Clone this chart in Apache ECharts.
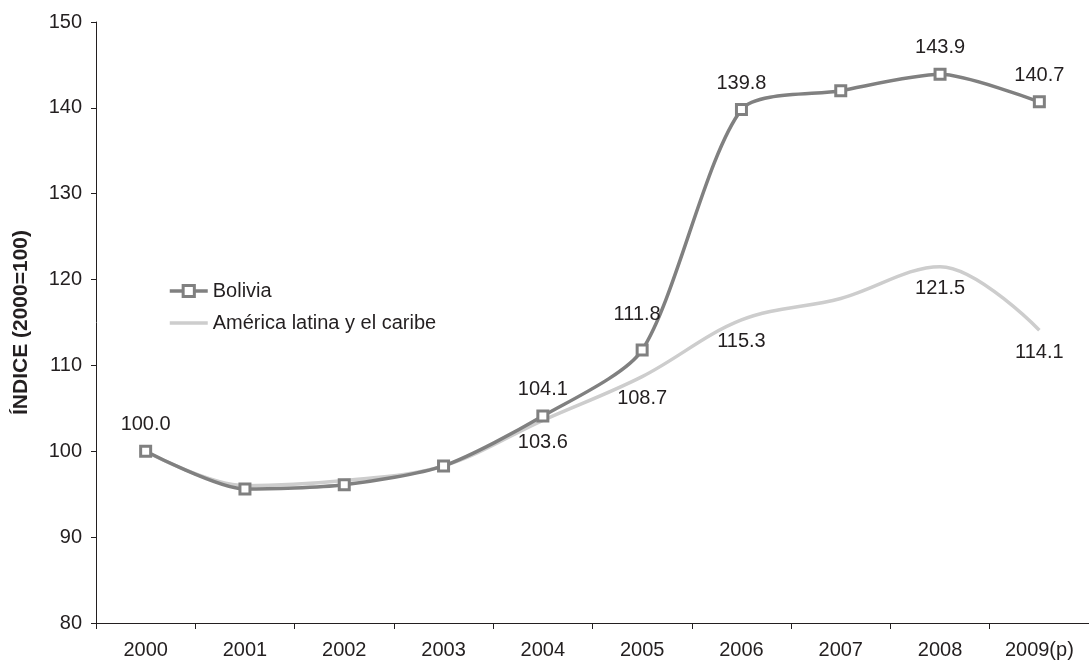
<!DOCTYPE html>
<html>
<head>
<meta charset="utf-8">
<script src="https://cdn.jsdelivr.net/npm/echarts@6/dist/echarts.min.js"></script>
<style>
  html, body { margin: 0; padding: 0; background: #fff; }
  #chart { width: 1089px; height: 661px; }
</style>
</head>
<body>
<div id="chart"></div>
<script>
// Índice 2000 = 100: Bolivia frente a América latina y el caribe
const years = ['2000', '2001', '2002', '2003', '2004', '2005', '2006', '2007', '2008', '2009(p)'];
const bolivia = [100.0, 95.6, 96.1, 98.3, 104.1, 111.8, 139.8, 142.0, 143.9, 140.7];
const latam = [100.0, 96.0, 96.6, 98.3, 103.6, 108.7, 115.3, 117.8, 121.5, 114.1];
const boliviaLabelYears = ['2000', '2004', '2005', '2006', '2008', '2009(p)'];
const latamLabelYears = ['2004', '2005', '2006', '2008', '2009(p)'];
const yTicks = [80, 90, 100, 110, 120, 130, 140, 150];

const FONT = '"Liberation Sans", Arial, Helvetica, sans-serif';
const TEXT = '#231f20';
const DARK = '#808080';
const LIGHT = '#cdcdcd';

const labelStyle = { fontFamily: FONT, fontSize: 20, color: TEXT };
const fmt = (p) => p.value.toFixed(1);

const boliviaData = bolivia.map((v, i) => {
  const item = {
    value: v,
    label: { show: boliviaLabelYears.includes(years[i]), position: 'top', distance: 10, formatter: fmt }
  };
  if (years[i] === '2005') item.label.offset = [-5, -9];
  return item;
});

const latamData = latam.map((v, i) => ({
  value: v,
  label: { show: latamLabelYears.includes(years[i]), position: 'bottom', distance: 12, formatter: fmt }
}));

const chart = echarts.init(document.getElementById('chart'), null, { renderer: 'canvas' });

chart.setOption({
  animation: false,
  backgroundColor: '#ffffff',
  grid: { left: 96, right: -7, top: 22, bottom: 38, containLabel: false },
  legend: {
    orient: 'vertical',
    left: 163,
    top: 276,
    itemWidth: 38,
    itemHeight: 14,
    itemGap: 12,
    textStyle: { fontFamily: FONT, fontSize: 20, color: TEXT },
    data: [
      {
        name: 'Bolivia',
        lineStyle: { color: DARK, width: 3.5 },
        itemStyle: { color: '#ffffff', borderColor: DARK, borderWidth: 3 }
      },
      {
        name: 'América latina y el caribe',
        lineStyle: { color: LIGHT, width: 3.5 },
        itemStyle: { color: 'rgba(0,0,0,0)', borderColor: 'rgba(0,0,0,0)', borderWidth: 0 }
      }
    ]
  },
  xAxis: {
    type: 'category',
    data: years,
    boundaryGap: true,
    axisLine: { lineStyle: { color: TEXT, width: 1 } },
    axisTick: { show: true, length: 6, alignWithLabel: false, lineStyle: { color: TEXT } },
    axisLabel: { fontFamily: FONT, fontSize: 20, color: TEXT, margin: 17, interval: 0 },
    splitLine: { show: false }
  },
  yAxis: {
    type: 'value',
    min: yTicks[0],
    max: yTicks[yTicks.length - 1],
    interval: 10,
    name: 'ÍNDICE (2000=100)',
    nameLocation: 'middle',
    nameRotate: 90,
    nameGap: 64,
    nameTextStyle: { fontFamily: FONT, fontSize: 21, fontWeight: 'bold', color: TEXT },
    axisLine: { show: true, lineStyle: { color: TEXT, width: 1 } },
    axisTick: { show: true, length: 5, lineStyle: { color: TEXT } },
    axisLabel: { fontFamily: FONT, fontSize: 20, color: TEXT, margin: 14 },
    splitLine: { show: false }
  },
  series: [
    {
      name: 'América latina y el caribe',
      type: 'line',
      data: latamData,
      smooth: 0.35,
      symbol: 'circle',
      symbolSize: 0,
      showSymbol: true,
      lineStyle: { color: LIGHT, width: 3.5 },
      itemStyle: { color: LIGHT },
      label: labelStyle,
      z: 2
    },
    {
      name: 'Bolivia',
      type: 'line',
      data: boliviaData,
      smooth: 0.25,
      symbol: 'rect',
      symbolSize: 10,
      showSymbol: true,
      lineStyle: { color: DARK, width: 3.5 },
      itemStyle: { color: '#ffffff', borderColor: DARK, borderWidth: 3 },
      label: labelStyle,
      z: 3
    }
  ]
});
</script>
</body>
</html>
